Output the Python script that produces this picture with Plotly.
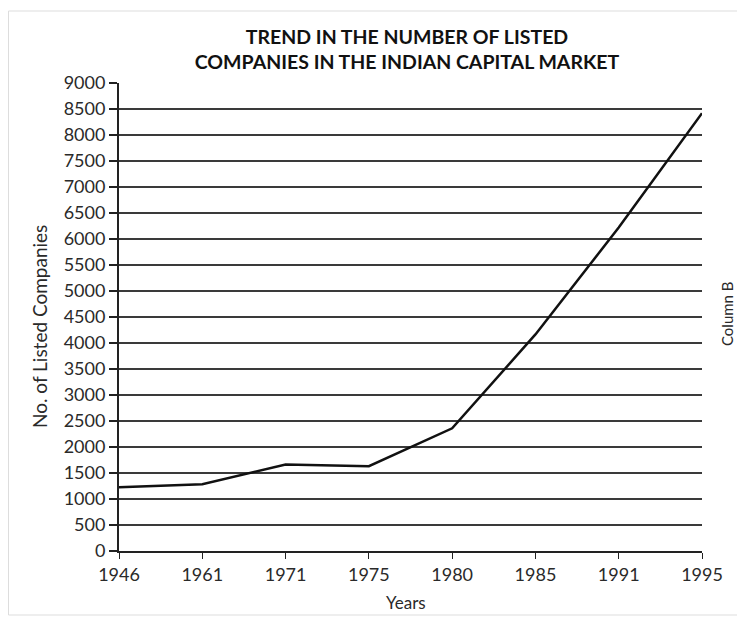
import plotly.graph_objects as go

years = ["1946", "1961", "1971", "1975", "1980", "1985", "1991", "1995"]
listed_companies = [1225, 1283, 1665, 1630, 2360, 4165, 6220, 8420]
y_ticks = list(range(0, 9001, 500))

FONT = "Lato, 'Open Sans', sans-serif"
TXT = "#2a2a2a"

fig = go.Figure()
fig.add_trace(go.Scatter(
    x=years, y=listed_companies, mode="lines",
    line=dict(color="#111111", width=2.5),
    showlegend=False,
))

# figure is drawn inside the page body (8px default margin)
W, H = 737, 609
ml, mr, mt, mb = 111, 43, 75, 66
pw, ph = W - ml - mr, H - mt - mb


def px(x):
    return (x - ml) / pw


def py(y):
    return (H - mb - y) / ph


fig.update_layout(
    width=W, height=H,
    margin=dict(l=ml, r=mr, t=mt, b=mb),
    paper_bgcolor="white", plot_bgcolor="white",
    font=dict(family=FONT, color=TXT, size=18),
    title=dict(
        text="<b>TREND IN THE NUMBER OF LISTED<br>COMPANIES IN THE INDIAN CAPITAL MARKET</b>",
        x=399 / W, xanchor="center", y=1 - 36 / H, yanchor="middle",
        font=dict(family=FONT, size=19.5, color="#111111"),
    ),
    xaxis=dict(
        type="category", range=[0, 7],
        showgrid=False, showline=True, linecolor="#222222", linewidth=2,
        ticks="outside", ticklen=6, tickcolor="#222222", tickwidth=1,
        tickfont=dict(size=18, color=TXT),
        zeroline=False,
    ),
    yaxis=dict(
        range=[0, 9000], tickvals=y_ticks, ticktext=[str(v) for v in y_ticks],
        showgrid=True, gridcolor="#3a3a3a", gridwidth=2,
        showline=True, linecolor="#222222", linewidth=2,
        ticks="outside", ticklen=8, tickcolor="#222222", tickwidth=2,
        tickfont=dict(size=18, color=TXT),
        zeroline=False,
    ),
)

fig.add_annotation(
    text="No. of Listed Companies", textangle=-90, showarrow=False,
    xref="paper", yref="paper", x=px(31), y=py(319),
    xanchor="center", yanchor="middle",
    font=dict(family=FONT, size=19, color=TXT),
)
fig.add_annotation(
    text="Years", showarrow=False,
    xref="paper", yref="paper", x=px(398), y=py(594),
    xanchor="center", yanchor="middle",
    font=dict(family=FONT, size=17, color=TXT),
)
fig.add_annotation(
    text="Column B", textangle=-90, showarrow=False,
    xref="paper", yref="paper", x=px(719), y=py(306),
    xanchor="center", yanchor="middle",
    font=dict(family=FONT, size=15, color=TXT),
)

fig.add_shape(
    type="rect", xref="paper", yref="paper",
    x0=px(0.5), x1=px(732), y0=py(607), y1=py(3),
    line=dict(color="#dddddd", width=1), layer="below",
)

fig.write_html("out.html")
